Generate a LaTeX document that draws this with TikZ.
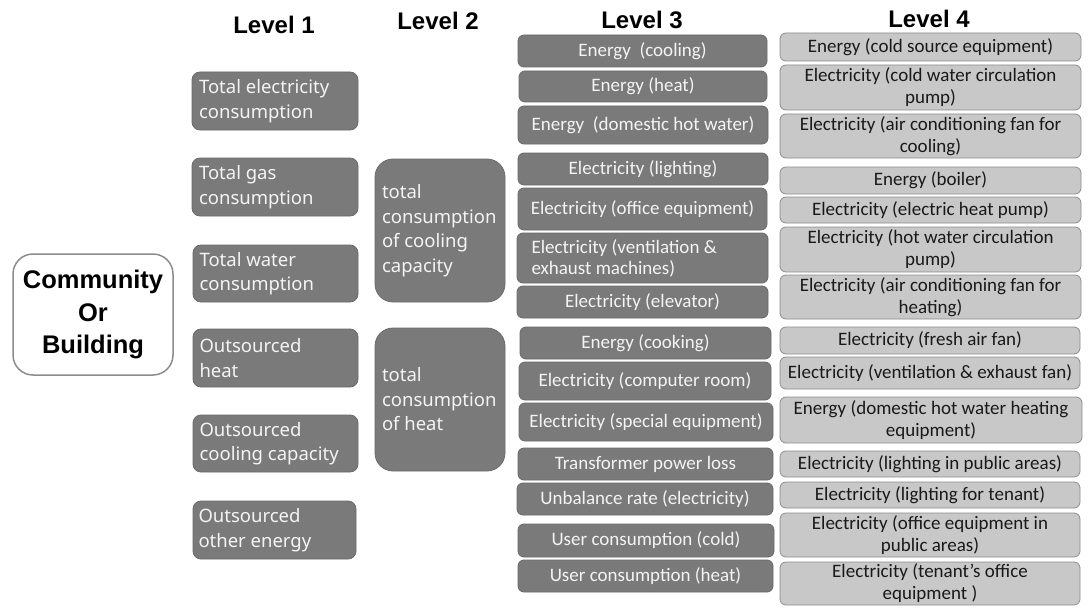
\documentclass[tikz,border=0pt]{standalone}
\usepackage{fontspec}
\setmainfont{Carlito}
\newfontfamily\nsans{Noto Sans}
\newfontfamily\hsans{Liberation Sans}
\definecolor{darkfill}{HTML}{7A7A7A}
\definecolor{darkline}{HTML}{6A6A6A}
\definecolor{lightfill}{HTML}{C8C8C8}
\definecolor{lightline}{HTML}{8C8C8C}
\definecolor{boxtext}{HTML}{F4F4F4}
\tikzset{
  basebox/.style={inner sep=0pt, line width=0.8pt},
  lvlone/.style={basebox, draw=darkline, fill=darkfill, rounded corners=8pt, text=boxtext,
    font=\nsans\fontsize{18.5}{24.5}\selectfont, align=flush left, text width=152pt},
  lvltwo/.style={basebox, draw=darkline, fill=darkfill, rounded corners=18pt, text=boxtext,
    font=\nsans\fontsize{18.5}{24.5}\selectfont, align=flush left, text width=116pt},
  lvlthree/.style={basebox, draw=darkline, fill=darkfill, rounded corners=6pt, text=boxtext,
    font=\fontsize{19}{21}\selectfont, align=center},
  lvlfour/.style={basebox, draw=lightline, fill=lightfill, rounded corners=6pt, text=black!90,
    font=\fontsize{19}{22}\selectfont, align=center},
  rootbox/.style={basebox, draw=lightline, fill=white, line width=1.5pt, rounded corners=20pt,
    font=\hsans\bfseries\fontsize{25.5}{32.5}\selectfont, align=center},
  heading/.style={font=\hsans\bfseries\fontsize{24}{28}\selectfont, inner sep=0pt}
}
\newcommand\bx[7]{\node[#2, minimum width={#5-#3}, minimum height={#6-#4}] (#1) at ({(#3+#5)/2},{(#4+#6)/2}) {#7};}
\begin{document}
\begin{tikzpicture}[x=1pt,y=-1pt]
\useasboundingbox (0,0) rectangle (1088,610);
% headings
\node[heading] (h1) at (274,25) {Level 1};
\node[heading] (h2) at (438,21) {Level 2};
\node[heading] (h3) at (642,20) {Level 3};
\node[heading] (h4) at (929,19) {Level 4};
% root
\bx{root}{rootbox}{13}{254}{173}{375}{Community\\Or\\Building}
% level 1
\bx{la}{lvlone}{192}{72}{358}{130}{Total electricity\\consumption}
\bx{lb}{lvlone}{192}{158}{358}{216}{Total gas\\consumption}
\bx{lc}{lvlone}{193}{245}{358}{302}{Total water\\consumption}
\bx{ld}{lvlone}{193}{329}{358}{387}{Outsourced\\heat}
\bx{le}{lvlone}{193}{415}{358}{472}{Outsourced\\cooling capacity}
\bx{lf}{lvlone}{193}{501}{356}{559}{Outsourced\\other energy}
% level 2
\bx{ma}{lvltwo}{375}{159}{505}{302}{total\\consumption\\of cooling\\capacity}
\bx{mb}{lvltwo}{375}{328}{505}{471}{total\\consumption\\of heat}
% level 3
\bx{ta}{lvlthree}{518}{35}{767}{67}{Energy\ \ (cooling)}
\bx{tb}{lvlthree}{519}{71}{767}{102}{Energy (heat)}
\bx{tc}{lvlthree}{518}{106}{768}{144}{Energy\ \ (domestic hot water)}
\bx{td}{lvlthree}{518}{153}{768}{185}{Electricity (lighting)}
\bx{te}{lvlthree}{518}{188}{767}{230}{Electricity (office equipment)}
\bx{tf}{lvlthree,align=flush left,text width=222pt}{517}{233}{768}{283}{Electricity (ventilation \&\\exhaust machines)}
\bx{tg}{lvlthree}{517}{286}{768}{318}{Electricity (elevator)}
\bx{th}{lvlthree}{520}{327}{771}{359}{Energy (cooking)}
\bx{ti}{lvlthree}{519}{362}{771}{400}{Electricity (computer room)}
\bx{tj}{lvlthree}{519}{403}{773}{441}{Electricity (special equipment)}
\bx{tk}{lvlthree}{518}{448}{773}{480}{Transformer power loss}
\bx{tl}{lvlthree}{517}{483}{773}{515}{Unbalance rate (electricity)}
\bx{tm}{lvlthree}{518}{524}{774}{557}{User consumption (cold)}
\bx{tn}{lvlthree}{518}{560}{773}{592}{User consumption (heat)}
% level 4
\bx{fa}{lvlfour}{780}{33}{1081}{61}{Energy (cold source equipment)}
\bx{fb}{lvlfour}{780}{65}{1081}{110}{Electricity (cold water circulation\\pump)}
\bx{fc}{lvlfour}{780}{114}{1081}{158}{Electricity (air conditioning fan for\\cooling)}
\bx{fd}{lvlfour}{780}{167}{1081}{194}{Energy (boiler)}
\bx{fe}{lvlfour}{780}{197}{1081}{223}{Electricity (electric heat pump)}
\bx{ff}{lvlfour}{780}{227}{1081}{272}{Electricity (hot water circulation\\pump)}
\bx{fg}{lvlfour}{780}{275}{1081}{319}{Electricity (air conditioning fan for\\heating)}
\bx{fh}{lvlfour}{780}{327}{1080}{354}{Electricity (fresh air fan)}
\bx{fi}{lvlfour}{780}{357}{1080}{389}{Electricity (ventilation \& exhaust fan)}
\bx{fj}{lvlfour}{780}{397}{1082}{443}{Energy (domestic hot water heating\\equipment)}
\bx{fk}{lvlfour}{780}{451}{1080}{477}{Electricity (lighting in public areas)}
\bx{fl}{lvlfour}{780}{482}{1080}{508}{Electricity (lighting for tenant)}
\bx{fm}{lvlfour}{780}{513}{1080}{557}{Electricity (office equipment in\\public areas)}
\bx{fn}{lvlfour}{780}{562}{1080}{605}{Electricity (tenant's office\\equipment )}
\end{tikzpicture}
\end{document}
